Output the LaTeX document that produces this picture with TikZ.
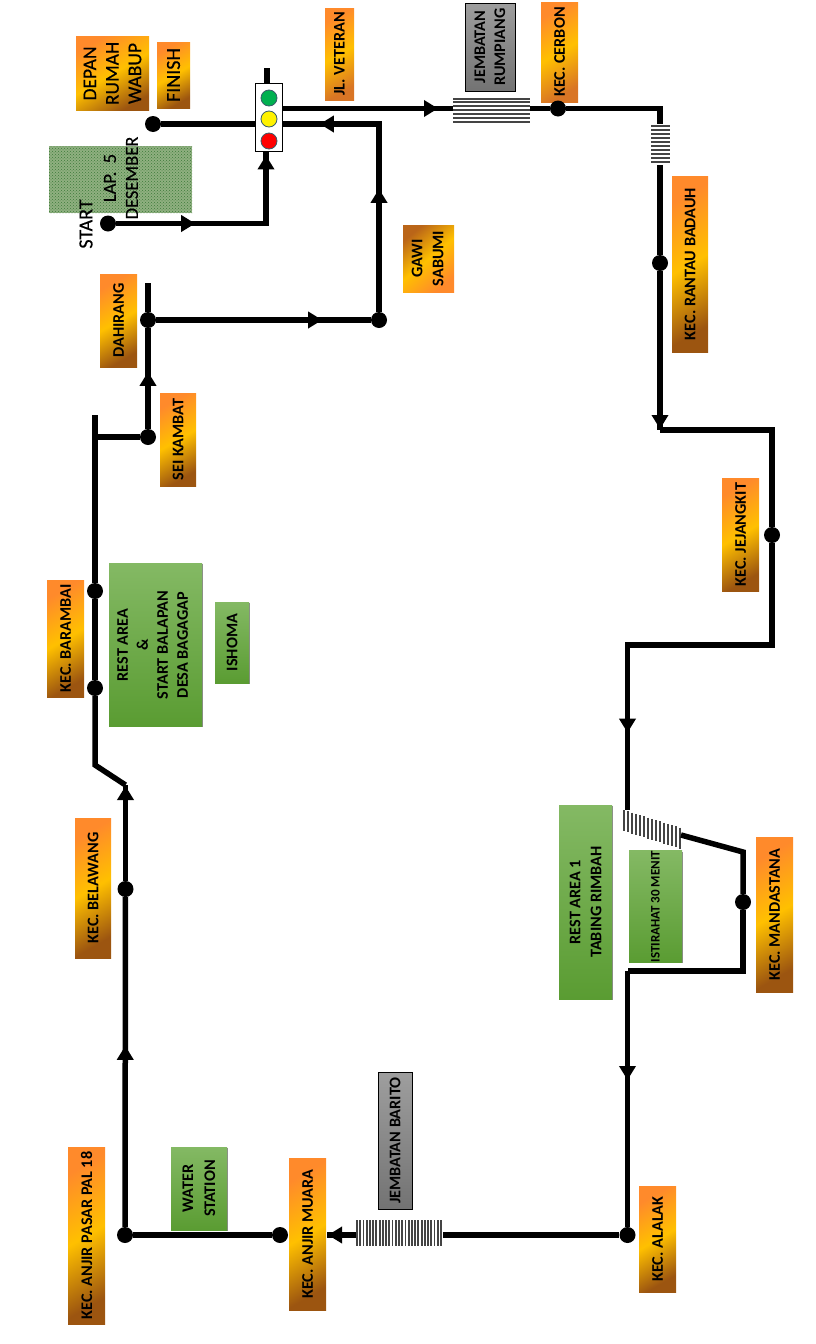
\documentclass[tikz,border=0pt]{standalone}
\usepackage{fontspec}
\setmainfont{Carlito}
\newfontfamily\heavyfont[FakeBold=0.4]{Carlito}
\usepackage{tikz}
\usetikzlibrary{arrows.meta,decorations.markings,patterns,shadows}
\definecolor{stoptop}{HTML}{FF8A2B}
\definecolor{stopmid}{HTML}{FFC000}
\definecolor{stopend}{HTML}{9C5510}
\definecolor{reston}{HTML}{84B964}
\definecolor{restoff}{HTML}{5A9C32}
\definecolor{lapfill}{HTML}{8FB080}
\definecolor{lapdots}{HTML}{3D7A3A}
\definecolor{stripe}{HTML}{444444}
\definecolor{lampgo}{HTML}{00B050}
\definecolor{lampedge}{HTML}{385D6A}
\tikzset{
  label/.style={rotate=90,align=center,inner sep=0pt,text=black,font=\bfseries\fontsize{16.2}{20}\selectfont},
  stopbox/.style={label,left color=stoptop,right color=stopend,middle color=stopmid,shading angle=30},
  stoplite/.style={label,left color=stoptop,right color=stoptop!85!black,middle color=stopmid,shading angle=30},
  stopback/.style={label,left color=stopend!70!stoptop,right color=stoptop,middle color=stopmid,shading angle=40},
  restbox/.style={label,top color=reston,bottom color=restoff,drop shadow={shadow xshift=1pt,shadow yshift=-1pt,fill=black,opacity=.45}},
  bridgebox/.style={label,draw=black,line width=.8pt,top color=black!38,bottom color=black!55},
  bridgespan/.style={inner sep=0pt},
  stripeline/.style={stripe,line width=2pt},
  dot/.style={circle,fill=black,inner sep=0pt,minimum size=16pt},
  lamp/.style={circle,draw=lampedge,line width=.8pt,inner sep=0pt,minimum size=16pt},
  route/.style={line width=5.5pt,line join=miter},
  arrowat/.style={postaction={decorate,decoration={markings,mark=at position #1 with {\arrow{Triangle[length=14pt,width=16pt]}}}}}
}
\begin{document}
\begin{tikzpicture}[x=1pt,y=-1pt]
  \useasboundingbox (0,0) rectangle (816,1344);
  % stops
  \node[stopbox,minimum width=74pt,minimum height=73pt,font=\heavyfont\fontsize{19.5}{22.5}\selectfont] (depan) at (112.5,73.5) {DEPAN\\RUMAH\\WABUP};
  \node[stopbox,minimum width=66pt,minimum height=33pt,font=\heavyfont\fontsize{20}{22}\selectfont] (finish) at (173.5,75) {FINISH};
  \node[stoplite,minimum width=92pt,minimum height=29pt] (veteran) at (339.5,54) {JL. VETERAN};
  \node[stoplite,minimum width=100pt,minimum height=37pt] (cerbon) at (559.5,52) {KEC. CERBON};
  \node[stopbox,minimum width=176pt,minimum height=36pt] (rantau) at (690,264) {KEC. RANTAU BADAUH};
  \node[stopback,minimum width=67pt,minimum height=51pt] (gawi) at (428.5,258.5) {};
  \node[label,font=\bfseries\fontsize{16.2}{21}\selectfont] (gawitext) at (427.5,258.5) {GAWI\\SABUMI};
  \node[stopbox,minimum width=93pt,minimum height=37pt] (dahirang) at (118.5,320.5) {DAHIRANG};
  \node[stopbox,minimum width=93pt,minimum height=36pt] (seikambat) at (178,439.5) {SEI KAMBAT};
  \node[stopbox,minimum width=117pt,minimum height=37pt] (barambai) at (65.5,638.5) {KEC. BARAMBAI};
  \node[stopbox,minimum width=113pt,minimum height=37pt] (jejangkit) at (740.5,534.5) {KEC. JEJANGKIT};
  \node[stopbox,minimum width=155pt,minimum height=37pt] (mandastana) at (774.5,914.5) {KEC. MANDASTANA};
  \node[stopbox,minimum width=140pt,minimum height=36pt] (belawang) at (93,888) {KEC. BELAWANG};
  \node[stopbox,minimum width=177pt,minimum height=37pt] (pasarpal) at (86.5,1235.5) {KEC. ANJIR PASAR PAL 18};
  \node[stopbox,minimum width=152pt,minimum height=37pt] (muara) at (307.5,1234) {KEC. ANJIR MUARA};
  \node[stopbox,minimum width=106pt,minimum height=37pt] (alalak) at (657.5,1239) {KEC. ALALAK};
  % rest areas
  \node[restbox,minimum width=163pt,minimum height=93pt] (restarea) at (155.5,644.5) {};
  \node[label] (restareatext) at (152.5,645) {REST AREA\\\&\\START BALAPAN\\DESA BAGAGAP};
  \node[restbox,minimum width=81pt,minimum height=34pt] (ishoma) at (232,642.5) {ISHOMA};
  \node[restbox,minimum width=194pt,minimum height=53pt,font=\bfseries\fontsize{16.2}{21}\selectfont] (restone) at (585.5,902) {REST AREA 1\\TABING RIMBAH};
  \node[restbox,minimum width=109pt,minimum height=53pt,font=\bfseries\fontsize{13}{15}\selectfont] (istirahat) at (655.5,906.5) {ISTIRAHAT 30 MENIT};
  \node[restbox,minimum width=83pt,minimum height=56pt,font=\bfseries\fontsize{16.2}{22}\selectfont] (water) at (199,1188.5) {WATER\\STATION};
  % bridge names
  \node[bridgebox,minimum width=88pt,minimum height=50pt] (rumpiang) at (490,47) {JEMBATAN\\RUMPIANG};
  \node[bridgebox,minimum width=137pt,minimum height=34pt] (barito) at (395,1140.5) {JEMBATAN BARITO};
  % start area
  \node[inner sep=0pt,minimum width=143pt,minimum height=67pt,preaction={fill=lapfill},pattern=crosshatch dots,pattern color=lapdots] (lapzone) at (120.5,179.5) {};
  \node[label,font=\heavyfont\fontsize{18.5}{22}\selectfont] (lap) at (121,178) {LAP.\ \ 5\\DESEMBER};
  \node[label,font=\heavyfont\fontsize{20}{22}\selectfont] (start) at (86,224) {START};
  % traffic light
  \node[draw=black,fill=white,line width=.8pt,minimum width=27pt,minimum height=68pt,inner sep=0pt] (light) at (268.5,117) {};
  \node[lamp,fill=lampgo] (go) at (269,98) {};
  \node[lamp,fill=yellow] (wait) at (269,119) {};
  \node[lamp,fill=red] (halt) at (269,141) {};
  % bridges
  \node[bridgespan,minimum width=77pt,minimum height=27pt] (bridgeA) at (491.5,110.5) {};
  \foreach \yy in {0,...,6}
    \draw[stripeline] (453,98.5+3.95*\yy) -- (530,98.5+3.95*\yy);
  \node[bridgespan,minimum width=19pt,minimum height=41pt] (bridgeB) at (660,144.5) {};
  \foreach \yy in {0,...,9}
    \draw[stripeline] (651,126+4.05*\yy) -- (670,126+4.05*\yy);
  \node[bridgespan,minimum width=86pt,minimum height=26pt] (bridgeC) at (399,1233) {};
  \foreach \xx in {0,...,26}
    \draw[stripeline,line width=1.8pt] (357+3.23*\xx,1220) -- (357+3.23*\xx,1246);
  \foreach \xx in {0,...,14}
    \draw[stripeline] (624+4*\xx,810+1.25*\xx) -- (624+4*\xx,831+1.25*\xx);
  \coordinate (bridgeDtop) at (627.5,810);
  \coordinate (bridgeDright) at (681,835);
  % stops on the road
  \node[dot] (startdot) at (108,223.5) {};
  \node[dot] (finishdot) at (153,124) {};
  \node[dot] (cerbondot) at (558,108.5) {};
  \node[dot] (rantaudot) at (660,263) {};
  \node[dot] (jejangkitdot) at (772,535) {};
  \node[dot] (mandastanadot) at (743,902) {};
  \node[dot] (alalakdot) at (627.5,1235) {};
  \node[dot] (muaradot) at (280,1235) {};
  \node[dot] (pasarpaldot) at (125,1235) {};
  \node[dot] (belawangdot) at (125.5,889) {};
  \node[dot] (barambaidot) at (95,688) {};
  \node[dot] (restareadot) at (95,591) {};
  \node[dot] (seikambatdot) at (148,437) {};
  \node[dot] (dahirangdot) at (148,320) {};
  \node[dot] (gawidot) at (379,320) {};
  % corners
  \coordinate (startturn) at (266,223.5);
  \coordinate (lighttop) at (267,68);
  \coordinate (lightin) at (282,124);
  \coordinate (lightout) at (282,108.5);
  \coordinate (bridgeAin) at (453,108.5);
  \coordinate (bridgeAout) at (530,108.5);
  \coordinate (cerbonturn) at (660,108.5);
  \coordinate (rantauturn) at (660,430);
  \coordinate (jejangkitin) at (772,430);
  \coordinate (jejangkitout) at (772,645);
  \coordinate (restin) at (627.5,645);
  \coordinate (mandastanain) at (743,852);
  \coordinate (mandastanaout) at (743,971);
  \coordinate (alalakin) at (627.5,971);
  \coordinate (bridgeCin) at (443,1235);
  \coordinate (bridgeCout) at (356,1235);
  \coordinate (muaraedge) at (327,1235);
  \coordinate (belawangtop) at (125.5,785);
  \coordinate (barambaibend) at (95,765);
  \coordinate (roadtop) at (95,415);
  \coordinate (roadjoin) at (95,437);
  \coordinate (dahirangtop) at (148,283);
  \coordinate (gawiturn) at (379,124);
  % road
  \draw[route,arrowat=79pt,arrowat=-4pt] (startdot) -- (startturn) -- (light.south -| startturn);
  \draw[route] (finishdot) -- (light.west |- finishdot);
  \draw[route] (lighttop) -- (light.north -| lighttop);
  \draw[route,arrowat=-15pt] (lightout) -- (bridgeAin);
  \draw[route] (bridgeAout) -- (cerbondot);
  \draw[route] (cerbondot) -- (cerbonturn) -- (bridgeB.north);
  \draw[route] (bridgeB.south) -- (rantaudot);
  \draw[route,arrowat=-1pt] (rantaudot) -- (rantauturn);
  \draw[route] (rantauturn) -- (jejangkitin) -- (jejangkitdot);
  \draw[route,arrowat=334pt] (jejangkitdot) -- (jejangkitout) -- (restin) -- (bridgeDtop);
  \draw[route] (bridgeDright) -- (mandastanain) -- (mandastanadot);
  \draw[route] (mandastanadot) -- (mandastanaout) -- (alalakin);
  \draw[route,arrowat=109pt] (alalakin) -- (alalakdot);
  \draw[route] (alalakdot) -- (bridgeCin);
  \draw[route,arrowat=-1pt] (bridgeCout) -- (muaraedge);
  \draw[route] (muaradot) -- (pasarpaldot);
  \draw[route,arrowat=181pt] (pasarpaldot) -- (belawangdot);
  \draw[route,arrowat=-1pt] (belawangdot) -- (belawangtop);
  \draw[route] (belawangtop) -- (barambaibend) -- (barambaidot);
  \draw[route] (barambaidot) -- (restareadot);
  \draw[route] (restareadot) -- (roadtop);
  \draw[route] (roadjoin) -- (seikambatdot);
  \draw[route,arrowat=57pt] (seikambatdot) -- (dahirangdot);
  \draw[route] (dahirangdot) -- (dahirangtop);
  \draw[route,arrowat=166pt] (dahirangdot) -- (gawidot);
  \draw[route,arrowat=123pt,arrowat=247pt] (gawidot) -- (gawiturn) -- (lightin);
\end{tikzpicture}
\end{document}
